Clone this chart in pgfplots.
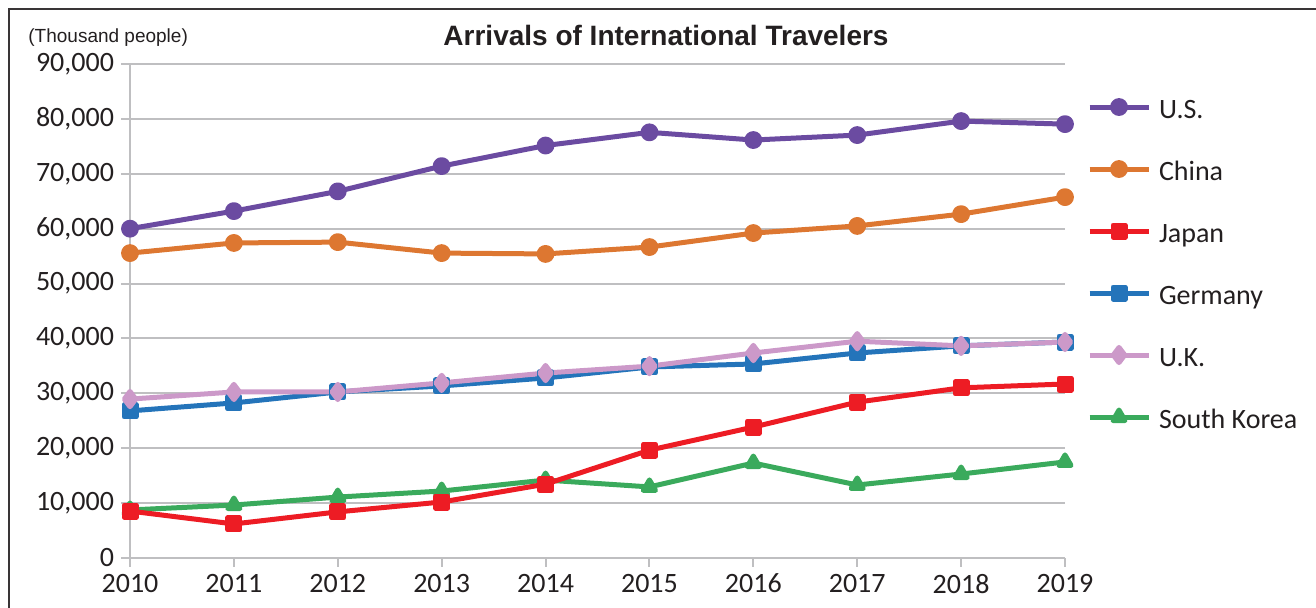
\documentclass[border=0pt]{standalone}
\usepackage{pgfplots}
\pgfplotsset{compat=1.18}
\usepackage{fontspec}
\setmainfont{Carlito}
\newfontfamily\arialfont{Liberation Sans}
\definecolor{cUS}{HTML}{6B4BA1}
\definecolor{cCN}{HTML}{DD7731}
\definecolor{cJP}{HTML}{ED1C24}
\definecolor{cDE}{HTML}{2474BA}
\definecolor{cUK}{HTML}{CC99C9}
\definecolor{cKR}{HTML}{3AAA5C}
\definecolor{gridc}{HTML}{BFBFC1}
\definecolor{txt}{HTML}{231F20}
\begin{document}
\begin{tikzpicture}
\useasboundingbox (0,0) rectangle (658pt,304pt);
\draw[line width=1pt, color=txt!90] (4.5pt,0) -- (4.5pt,299.5pt) -- (658pt,299.5pt);
\node[anchor=base, font=\arialfont\bfseries\fontsize{14}{16}\selectfont, text=txt, inner sep=0pt] at (333pt,281pt) {Arrivals of International Travelers};
\node[anchor=base west, font=\arialfont\fontsize{9.5}{11}\selectfont, text=txt, inner sep=0pt] at (14pt,282.5pt) {(Thousand people)};
\begin{axis}[
  at={(65pt,25pt)}, anchor=south west,
  scale only axis, width=467.5pt, height=247pt,
  xmin=2010, xmax=2019, ymin=0, ymax=90000,
  xtick={2010,2011,...,2019},
  ytick={0,10000,...,90000},
  scaled ticks=false,
  axis x line*=bottom, axis y line*=left,
  axis line style={gridc, line width=1pt, -},
  tick style={gridc, line width=1pt},
  tick align=outside, major tick length=4.5pt,
  ymajorgrids, grid style={gridc, line width=1pt},
  /pgf/number format/assume math mode=true,
  yticklabel style={font=\fontsize{14}{16}\selectfont, text=txt, /pgf/number format/1000 sep={,}},
  xticklabel style={font=\fontsize{14}{16}\selectfont, text=txt, /pgf/number format/1000 sep={}},
  every axis plot/.append style={line width=2.5pt, line join=round},
  legend cell align=left,
  legend style={draw=none, fill=none, inner sep=0pt, outer sep=0pt,
    at={(axis description cs:1,1)}, anchor=north west, xshift=11pt, yshift=-17pt,
    font=\fontsize{14}{16}\selectfont, text=txt,
    nodes={inner sep=0pt, text height=10pt, text depth=3pt},
    row sep=18pt,
    /tikz/every odd column/.append style={column sep=4pt}},
  legend image code/.code={\draw[mark repeat=2, mark phase=2, #1] plot coordinates {(0pt,2pt) (14.75pt,2pt) (29.5pt,2pt)};},
]
\addlegendimage{color=cUS, mark=*, mark size=3.2pt, mark options={fill=cUS}}
\addlegendentry{U.S.}
\addlegendimage{color=cCN, mark=*, mark size=3.2pt, mark options={fill=cCN}}
\addlegendentry{China}
\addlegendimage{color=cJP, mark=square*, mark size=3pt, mark options={fill=cJP}}
\addlegendentry{Japan}
\addlegendimage{color=cDE, mark=square*, mark size=3pt, mark options={fill=cDE}}
\addlegendentry{Germany}
\addlegendimage{color=cUK, mark=diamond*, mark size=3.8pt, mark options={fill=cUK}}
\addlegendentry{U.K.}
\addlegendimage{color=cKR, mark=triangle*, mark size=3.5pt, mark options={fill=cKR}}
\addlegendentry{South Korea}
% U.S.
\addplot[forget plot, color=cUS, mark=*, mark size=3.2pt, mark options={fill=cUS}] coordinates {
(2010,60000) (2011,63200) (2012,66800) (2013,71400) (2014,75150) (2015,77550) (2016,76150) (2017,77050) (2018,79600) (2019,79050)};
% China
\addplot[forget plot, color=cCN, mark=*, mark size=3.2pt, mark options={fill=cCN}] coordinates {
(2010,55550) (2011,57400) (2012,57550) (2013,55550) (2014,55400) (2015,56650) (2016,59200) (2017,60500) (2018,62650) (2019,65750)};
% Germany
\addplot[forget plot, color=cDE, mark=square*, mark size=3pt, mark options={fill=cDE}] coordinates {
(2010,26800) (2011,28250) (2012,30250) (2013,31350) (2014,32800) (2015,34800) (2016,35350) (2017,37350) (2018,38650) (2019,39350)};
% U.K.
\addplot[forget plot, color=cUK, mark=diamond*, mark size=3.8pt, mark options={fill=cUK}] coordinates {
(2010,28950) (2011,30250) (2012,30250) (2013,31900) (2014,33700) (2015,34950) (2016,37350) (2017,39500) (2018,38650) (2019,39350)};
% South Korea
\addplot[forget plot, color=cKR, mark=triangle*, mark size=3.5pt, mark options={fill=cKR}] coordinates {
(2010,8750) (2011,9650) (2012,11100) (2013,12200) (2014,14200) (2015,12950) (2016,17300) (2017,13300) (2018,15300) (2019,17500)};
% Japan
\addplot[forget plot, color=cJP, mark=square*, mark size=3pt, mark options={fill=cJP}] coordinates {
(2010,8550) (2011,6200) (2012,8400) (2013,10200) (2014,13450) (2015,19650) (2016,23850) (2017,28400) (2018,31000) (2019,31700)};
\end{axis}
\end{tikzpicture}
\end{document}
